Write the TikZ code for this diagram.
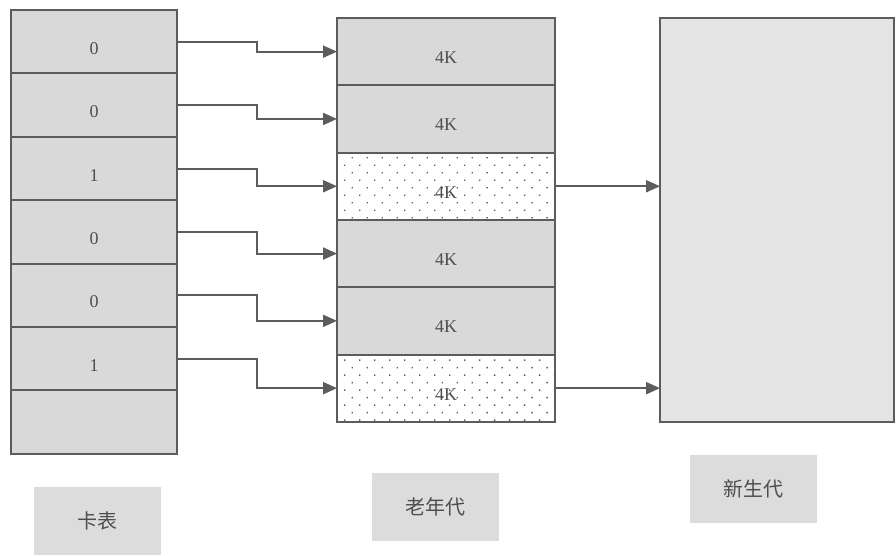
\documentclass[tikz,border=0pt]{standalone}
\usepackage{fontspec}
\setmainfont{Liberation Serif}
\newfontfamily\cjk{Noto Sans CJK SC}
\usetikzlibrary{
  arrows.meta,
  patterns.meta,
  positioning
}
\definecolor{ink}{HTML}{5C5C5C}
\definecolor{textgrey}{HTML}{4E4E4E}
\definecolor{cellgrey}{HTML}{D9D9D9}
\definecolor{younggrey}{HTML}{E4E4E4}
\definecolor{taggrey}{HTML}{DCDCDC}
\tikzset{
  link/.style={
    -{Triangle[length=14pt, width=12pt]},
    line width=2pt,
    draw=ink
  },
  card/.style={
    draw=ink,
    fill=cellgrey,
    line width=2pt,
    minimum width=166pt,
    minimum height=63.4pt,
    inner sep=0pt,
    outer sep=0pt,
    text=textgrey,
    font=\fontsize{18}{18}\selectfont,
    text height=25pt,
    text depth=0pt
  },
  oldpage/.style={
    card,
    minimum width=218pt,
    minimum height=67.3pt,
    text height=24pt
  },
  dirtypage/.style={
    oldpage,
    fill=white,
    postaction={
      pattern={Dots[distance=10.6pt, angle=45, radius=1pt]},
      pattern color=ink
    }
  },
  region/.style={
    draw=ink,
    fill=younggrey,
    line width=2pt,
    minimum width=234pt,
    minimum height=404pt,
    outer sep=0pt
  },
  tag/.style={
    fill=taggrey,
    minimum width=127pt,
    minimum height=68pt,
    text=textgrey,
    font=\cjk\fontsize{20}{20}\selectfont
  }
}

\begin{document}
\begin{tikzpicture}[x=1pt, y=-1pt]
  \useasboundingbox (0,0) rectangle (896,555);

  % Card table.
  \node[card, anchor=north west] (c1) at (11,10) {0};
  \node[card, below=0pt of c1] (c2) {0};
  \node[card, below=0pt of c2] (c3) {1};
  \node[card, below=0pt of c3] (c4) {0};
  \node[card, below=0pt of c4] (c5) {0};
  \node[card, below=0pt of c5] (c6) {1};
  \node[card, below=0pt of c6] (c7) {};

  % Old generation.
  \node[oldpage, anchor=north west] (o1) at (337,18) {4K};
  \node[oldpage, below=0pt of o1] (o2) {4K};
  \node[dirtypage, below=0pt of o2] (o3) {4K};
  \node[oldpage, below=0pt of o3] (o4) {4K};
  \node[oldpage, below=0pt of o4] (o5) {4K};
  \node[dirtypage, below=0pt of o5] (o6) {4K};

  % Young generation.
  \node[region, anchor=north west] (young) at (660,18) {};

  \coordinate (bend) at (257,0);
  \draw[link] (c1.east) -- (c1.east -| bend) |- (o1.west);
  \draw[link] (c2.east) -- (c2.east -| bend) |- (o2.west);
  \draw[link] (c3.east) -- (c3.east -| bend) |- (o3.west);
  \draw[link] (c4.east) -- (c4.east -| bend) |- (o4.west);
  \draw[link] (c5.east) -- (c5.east -| bend) |- (o5.west);
  \draw[link] (c6.east) -- (c6.east -| bend) |- (o6.west);
  \draw[link] (o3.east) -- (o3.east -| young.west);
  \draw[link] (o6.east) -- (o6.east -| young.west);

  \node[tag] (cardtag) at (97,521) {卡表};
  \node[tag] (oldtag) at (435,507) {老年代};
  \node[tag] (youngtag) at (753,489) {新生代};
\end{tikzpicture}
\end{document}
